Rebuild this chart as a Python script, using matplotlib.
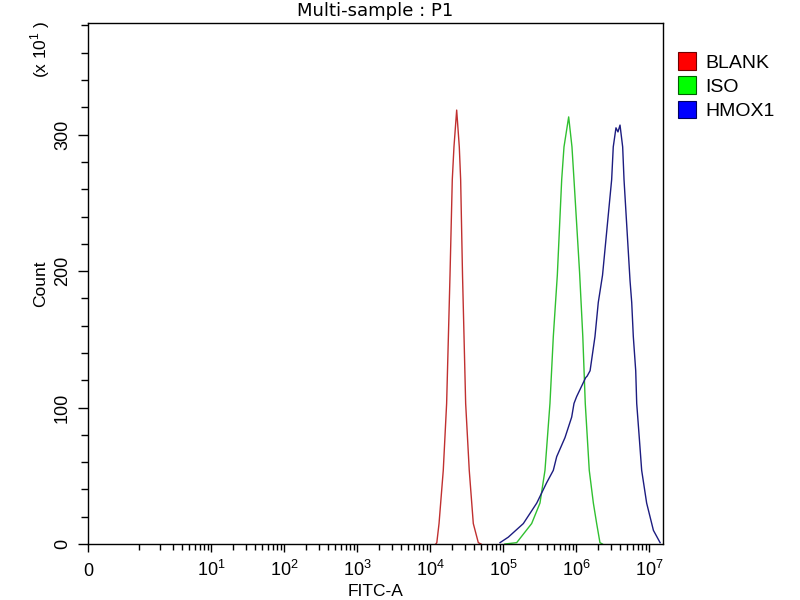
import numpy as np
import matplotlib
matplotlib.use("Agg")
import matplotlib.pyplot as plt
from matplotlib.patches import Patch
from matplotlib.ticker import FixedLocator, NullFormatter

# histogram outlines (FITC-A value, count)
blank_x = [1.20e4, 1.24e4, 1.33e4, 1.52e4, 1.69e4, 1.88e4, 2.02e4, 2.13e4, 2.32e4,
           2.52e4, 2.63e4, 2.79e4, 3.08e4, 3.45e4, 3.92e4, 4.59e4, 5.0e4]
blank_y = [0, 1, 15, 54, 103, 197, 267, 291, 318, 291, 267, 197, 103, 54, 15, 1, 0]

iso_x = [1.06e5, 1.54e5, 2.47e5, 3.21e5, 3.76e5, 4.40e5, 4.89e5, 5.55e5, 6.37e5,
         6.85e5, 7.94e5, 8.81e5, 9.39e5, 1.12e6, 1.24e6, 1.34e6, 1.52e6, 1.73e6,
         1.92e6, 2.13e6, 2.3e6]
iso_y = [0, 1, 15, 30, 54, 103, 152, 197, 267, 291, 313, 291, 267, 199, 152, 103,
         54, 30, 15, 1, 0]

hmox_x = [9.1e4, 1.18e5, 1.90e5, 2.90e5, 3.97e5, 4.89e5, 5.44e5, 7.07e5, 8.73e5,
          9.39e5, 1.02e6, 1.36e6, 1.42e6, 1.56e6, 1.82e6, 2.02e6, 2.31e6, 3.08e6,
          3.24e6, 3.53e6, 3.76e6, 4.01e6, 4.36e6, 4.55e6, 5.50e6, 5.80e6, 6.10e6,
          6.58e6, 6.79e6, 7.36e6, 7.94e6, 9.29e6, 1.15e7, 1.42e7]
hmox_y = [1, 5, 15, 30, 45, 54, 64, 78, 93, 103, 108, 122, 123, 127, 152, 177, 197,
          267, 291, 305, 302, 307, 291, 267, 193, 177, 152, 127, 103, 78, 54, 30, 10, 1]

names = ["BLANK", "ISO", "HMOX1"]
line_colors = ["#c03030", "#30c030", "#1c1c80"]
box_colors = ["#ff0000", "#00ff00", "#0000ff"]
box_edges = ["#700000", "#006000", "#000060"]

xticks = [0, 1e1, 1e2, 1e3, 1e4, 1e5, 1e6, 1e7]
xlabels = ["0"] + [r"$\mathregular{10^{%d}}$" % k for k in range(1, 8)]
yticks = [0, 100, 200, 300]

plt.rcParams["font.family"] = ["Liberation Sans", "DejaVu Sans"]

W = 0.413  # linear width of the biexponential-ish axis


def fwd(v):
    return np.arcsinh(np.asarray(v, dtype=float) / W) / np.log(10)


def inv(v):
    return W * np.sinh(np.asarray(v, dtype=float) * np.log(10))


fig = plt.figure(figsize=(8, 6), dpi=100)
ax = fig.add_axes([0.11, 0.0933, 0.71875, 0.8688])
ax.set_xscale("function", functions=(fwd, inv))

for xs, ys, c in zip([blank_x, iso_x, hmox_x], [blank_y, iso_y, hmox_y], line_colors):
    ax.plot(xs, ys, color=c, lw=1.0)

ax.set_xlim(0, 1.556e7)
ax.set_ylim(0, 382)

minor_x = [k * 10 ** e for e in range(0, 7) for k in range(1 if e == 0 else 2, 10)]
ax.xaxis.set_major_locator(FixedLocator(xticks))
ax.xaxis.set_minor_locator(FixedLocator(minor_x))
ax.xaxis.set_minor_formatter(NullFormatter())
ax.set_xticks(xticks, xlabels, va="baseline")
ax.set_yticks(yticks)
ax.yaxis.set_minor_locator(FixedLocator(np.arange(20, 381, 20)))

ax.tick_params(axis="x", which="major", length=5.8, width=1.0, pad=17, labelsize=13)
ax.tick_params(axis="x", which="minor", length=4.0, width=1.0)
ax.tick_params(axis="y", which="major", length=7.2, width=1.0, pad=5,
               labelsize=13, labelrotation=90)
ax.tick_params(axis="y", which="minor", length=5.0, width=1.0)
for lab in ax.get_yticklabels():
    lab.set_va("center")

for s in ax.spines.values():
    s.set_linewidth(1.0)

ax.set_title("Multi-sample : P1", fontsize=13, pad=4.5, family="DejaVu Sans")
ax.set_xlabel("FITC-A", fontsize=12.5)
ax.xaxis.set_label_coords(0.5, -0.077)
ax.set_ylabel("Count", fontsize=12.5)
ax.yaxis.set_label_coords(-0.07, 0.5)

fig.text(0.05, 0.918, r"(x 10$^{\mathregular{1}}$ )", rotation=90,
         ha="center", va="center", fontsize=12.5)

handles = [Patch(facecolor=f, edgecolor=e, lw=0.8) for f, e in zip(box_colors, box_edges)]
fig.legend(handles, names, loc="upper left", bbox_to_anchor=(0.8475, 0.913),
           frameon=False, borderpad=0, borderaxespad=0, handlelength=0.95,
           handleheight=1.0, handletextpad=0.45, labelspacing=0.25, fontsize=14)

fig.savefig("out.png", dpi=100)
